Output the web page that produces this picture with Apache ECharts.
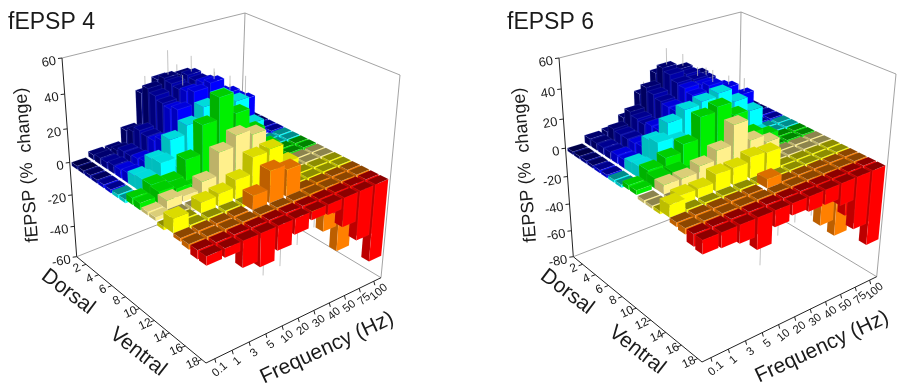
<!DOCTYPE html>
<html><head><meta charset="utf-8">
<script src="https://cdn.jsdelivr.net/npm/echarts@6/dist/echarts.min.js"></script>
<style>html,body{margin:0;padding:0;background:#fff}#c{width:899px;height:385px}</style></head>
<body><div id="c"></div>
<script>
const frequencies=['0.1','1','3','5','10','20','30','40','50','75','100'];
const depthTicks=[2,4,6,8,10,12,14,16,18];
const zTicks4=[60,40,20,0,-20,-40,-60];
const zTicks6=[60,40,20,0,-20,-40,-60,-80];
const rowColors=['#000080','#000080','#0000a8','#0000a8','#0000ff','#0000ff','#00ffff','#00ffff','#00f000','#00f000','#fff08c','#fff08c','#ffff00','#ffff00','#ff8000','#ff8000','#ff0000','#ff0000'];
const fepsp4=[
[-2,3,3,11,30,35,31,22,12,1,-2],
[-2,4,5,13,35,38,37,28,14,2,-2],
[-2,4,7,16,33,37,39,32,18,3,-2],
[-2,5,7,15,31,36,38,30,20,5,-2],
[-2,5,8,15,30,37,39,30,24,2,-2],
[-2,6,9,18,32,39,41,32,25,1,-2],
[-2,7,13,21,26,33,36,30,14,-1,-2],
[-2,8,14,8,8,8,8,6,4,-2,-2],
[4,8,6,15,31,43,31,18,6,-2,-2],
[4,7,5,3,3,3,3,2,-2,-2,-2],
[2,5,3,8,21,27,24,4,-2,-25,-2],
[2,-2,-2,-2,-2,-2,-2,-2,-2,-2,-2],
[-2,-2,6,7,11,20,21,10,-2,-28,-2],
[8,-2,-2,-2,-2,-2,-2,-2,-2,-2,-2],
[-2,-2,-2,-2,8,18,15,-2,-3,-3,-3],
[-3,-3,-3,-3,-3,-3,-3,-3,-26,-42,-4],
[-5,-4,-7,-8,-7,-6,-4,-5,-12,-22,-35],
[-5,-5,-15,-19,-14,-9,-5,-6,-17,-29,-46]];
const fepsp6=[
[-2,5,6,12,25,36,32,24,10,-2,-2],
[-2,5,11,19,32,42,38,31,16,-2,-2],
[-2,5,10,17,30,40,37,30,16,-2,-2],
[-2,5,10,16,28,37,36,28,14,-2,-2],
[-2,6,10,18,27,36,35,30,20,-2,-2],
[-2,6,11,18,27,34,37,32,24,-2,-2],
[-2,7,18,26,31,33,35,26,16,-2,-2],
[-2,8,20,17,8,8,8,6,4,-2,-2],
[3,9,13,18,32,35,26,10,5,-2,-2],
[3,7,7,3,3,3,3,2,-2,-2,-2],
[-2,6,6,10,16,29,15,10,-2,-2,-2],
[-2,-2,-2,-2,-2,-2,-2,-2,-2,-2,-2],
[-2,6,6,11,11,14,13,-2,-2,-2,-2],
[8,-2,-2,-2,-2,-2,-2,-2,-2,-2,-2],
[-3,-3,-3,-3,-3,6,-3,-3,-3,-3,-3],
[-4,-3,-3,-3,-3,-3,-3,-3,-36,-48,-3],
[-8,-8,-10,-17,-9,-7,-8,-8,-13,-30,-42],
[-9,-10,-12,-21,-11,-8,-10,-10,-15,-36,-52]];
const stems4=[[1,5,14],[2,6,9],[0,6,8],[3,5,6],[0,4,8],[3,7,8],[5,6,6],[5,7,8],[5,8,12],[3,8,8],[17,3,8],[17,4,12],[17,5,9],[17,6,7],[16,8,4]];
const stems6=[[1,5,11],[1,6,8],[3,6,6],[2,7,6],[0,4,6],[5,6,8],[5,7,6],[5,8,9],[17,3,14],[17,4,9],[17,5,8],[17,6,6]];

function makeProj(A,B,C,D,At,Ct){
 const dx1=D[0]-C[0],dx2=B[0]-C[0],sx=A[0]-D[0]+C[0]-B[0];
 const dy1=D[1]-C[1],dy2=B[1]-C[1],sy=A[1]-D[1]+C[1]-B[1];
 const den=dx1*dy2-dx2*dy1;
 const g=(sx*dy2-dx2*sy)/den,h=(dx1*sy-sx*dy1)/den;
 const a=D[0]-A[0]+g*D[0],b=B[0]-A[0]+h*B[0],c=A[0];
 const d=D[1]-A[1]+g*D[1],e=B[1]-A[1]+h*B[1],f=A[1];
 const ax=At[0]-A[0],ay=At[1]-A[1],cx=Ct[0]-C[0],cy=Ct[1]-C[1];
 const k=((C[0]-A[0])*cy-(C[1]-A[1])*cx)/(ax*cy-ay*cx);
 const Vx=A[0]+ax*k,Vy=A[1]+ay*k;
 const s=(At[1]-A[1])/(Vy-At[1]);
 return (u,v,t)=>{const w=g*u+h*v+1+t*s;return [(a*u+b*v+c+t*s*Vx)/w,(d*u+e*v+f+t*s*Vy)/w];};
}
function shade(hex,k){const n=parseInt(hex.slice(1),16);const m=x=>Math.round(Math.min(255,x*k));
 return 'rgb('+m(n>>16&255)+','+m(n>>8&255)+','+m(n&255)+')';}

const GW=200,GH=200;
const panels=[
 {title:'fEPSP 4',titlePos:[8,29],values:fepsp4,stems:stems4,ticks:zTicks4,zMin:-60,zMax:60,
  A:[76.7,256.7],B:[206,363],C:[381,277.7],D:[239,192.5],At:[62,58],Ct:[400,75],Dt:[245,13],
  yLab:[27,165],dorsal:[68,292],ventral:[138,352],freq:[327,348],gridLeft:0},
 {title:'fEPSP 6',titlePos:[507,29],values:fepsp6,stems:stems6,ticks:zTicks6,zMin:-80,zMax:60,
  A:[573.3,256.7],B:[702,362],C:[876.7,276.7],D:[738,193],At:[559,58],Ct:[896,74],Dt:[741,12],
  yLab:[525,165],dorsal:[567,292],ventral:[637,350],freq:[822,347],gridLeft:300}
];
panels.forEach(p=>p.proj=makeProj(p.A,p.B,p.C,p.D,p.At,p.Ct));

const BW=0.84,BD=0.84,BD_TALL=1.2;
function barRender(p,gi){return function(params,api){
 const c=api.value(0),val=api.value(1),r=api.value(2),stem=api.value(3);
 const rect=params.coordSys;
 const pc=api.coord([c,val]),p0=api.coord([c,0]);
 const bandW=rect.width/frequencies.length;
 const u0=(pc[0]-rect.x)/rect.width;
 const tv=(rect.y+rect.height-pc[1])/rect.height,t0=(rect.y+rect.height-p0[1])/rect.height;
 const tall=val>=5&&r>=6;
 const hu=BW/2*bandW/rect.width,hd=(tall?BD_TALL:BD)/2/rowColors.length;
 const v0=(r+.5)/rowColors.length;
 const col=rowColors[r];
 const tTop=Math.max(tv,t0),tBot=Math.min(tv,t0);
 const P=(su,sv,t)=>p.proj(u0+su*hu,v0+sv*hd,t);
 const top=[P(-1,-1,tTop),P(1,-1,tTop),P(1,1,tTop),P(-1,1,tTop)];
 const leftF=[P(-1,-1,tTop),P(-1,1,tTop),P(-1,1,tBot),P(-1,-1,tBot)];
 const rightF=[P(-1,1,tTop),P(1,1,tTop),P(1,1,tBot),P(-1,1,tBot)];
 const edge=(r<6)?'rgba(130,150,255,0.3)':'rgba(255,255,255,0.1)';
 const poly=(pts,fill)=>({type:'polygon',shape:{points:pts},style:{fill,stroke:edge,lineWidth:0.4}});
 const children=[];
 const topCol=val>0?shade(col,0.86):shade(col,0.55);
 if(stem&&val<0){const sb=p.proj(u0,v0,tBot-stem/(p.zMax-p.zMin));const a=p.proj(u0,v0,tBot);
  children.push({type:'line',shape:{x1:a[0],y1:a[1],x2:sb[0],y2:sb[1]},style:{stroke:'#b5b5b5',lineWidth:0.8}});}
 children.push(poly(leftF,shade(col,0.74)),poly(rightF,col),poly(top,topCol));
 if(stem&&val>0){const st=p.proj(u0,v0,tTop+stem/(p.zMax-p.zMin));const a=p.proj(u0,v0,tTop);
  children.push({type:'line',shape:{x1:a[0],y1:a[1],x2:st[0],y2:st[1]},style:{stroke:'#b5b5b5',lineWidth:0.8}});}
 return {type:'group',children};
};}
function txt(s,x,y,size,rotDeg,align){return {type:'text',x,y,rotation:(rotDeg||0)*Math.PI/180,
 style:{text:s,fontSize:size,fontFamily:'"Liberation Sans",Arial,sans-serif',fill:'#1a1a1a',align:align||'center',verticalAlign:'middle'},silent:true};}
function ln(a,b,stroke,w){return {type:'line',shape:{x1:a[0],y1:a[1],x2:b[0],y2:b[1]},style:{stroke,lineWidth:w}};}
function frameRender(p){return function(params,api){
 const pr=p.proj,ch=[];const g='#8c8c8c',k='#222';
 ch.push(ln(p.A,p.D,g,0.8),ln(p.C,p.D,g,0.8),ln(p.Dt,p.D,g,0.8),ln(p.At,p.Dt,g,0.8),ln(p.Dt,p.Ct,g,0.8),ln(p.Ct,p.C,g,0.8));
 ch.push(ln(p.At,p.A,k,1),ln(p.A,p.B,k,1),ln(p.B,p.C,k,1));
 p.ticks.forEach(z=>{const t=(z-p.zMin)/(p.zMax-p.zMin);const a=pr(0,0,t);
  ch.push(ln(a,[a[0]-4,a[1]+0.5],k,1));
  ch.push(txt(String(z),a[0]-6,a[1]+3,13,10,'right'));});
 depthTicks.forEach(d=>{const a=pr(0,(d-.5)/18,0);
  ch.push(ln(a,[a[0]-4,a[1]+1.5],k,1));
  ch.push(txt(String(d),a[0]-9,a[1]+4,12,25));});
 frequencies.forEach((f,i)=>{const a=pr((i+.5)/11,1,0);
  ch.push(ln(a,[a[0]+1,a[1]+4],k,1));
  ch.push(txt(f,a[0]+5,a[1]+11,11.5,40));});
 ch.push(txt(p.title,p.titlePos[0],p.titlePos[1]-6,23,0,'left'));
 ch.push(txt('fEPSP (%  change)',p.yLab[0],p.yLab[1],18,94.5));
 ch.push(txt('Dorsal',p.dorsal[0],p.dorsal[1],21,-37));
 ch.push(txt('Ventral',p.ventral[0],p.ventral[1],21,-38));
 ch.push(txt('Frequency (Hz)',p.freq[0],p.freq[1],21,25));
 return {type:'group',children:ch};
};}
const grid=[],xAxis=[],yAxis=[],series=[];
panels.forEach((p,i)=>{
 grid.push({left:p.gridLeft,top:0,width:GW,height:GH,show:false});
 xAxis.push({type:'category',gridIndex:i,data:frequencies,show:false});
 yAxis.push({type:'value',gridIndex:i,min:p.zMin,max:p.zMax,show:false});
 const items=[];
 for(let r=0;r<p.values.length;r++)for(let c=frequencies.length-1;c>=0;c--){
  const st=p.stems.find(s=>s[0]===r&&s[1]===c);
  items.push([c,p.values[r][c],r,st?st[2]:0]);}
 series.push({type:'custom',coordinateSystem:'none',data:[[0]],renderItem:frameRender(p),silent:true,z:1,animation:false});
 series.push({type:'custom',xAxisIndex:i,yAxisIndex:i,data:items,encode:{x:0,y:1},renderItem:barRender(p,i),silent:true,z:2,animation:false,clip:false});
});
const chart=echarts.init(document.getElementById('c'),null,{renderer:'canvas'});
chart.setOption({backgroundColor:'#fff',animation:false,grid,xAxis,yAxis,series});
</script></body></html>
